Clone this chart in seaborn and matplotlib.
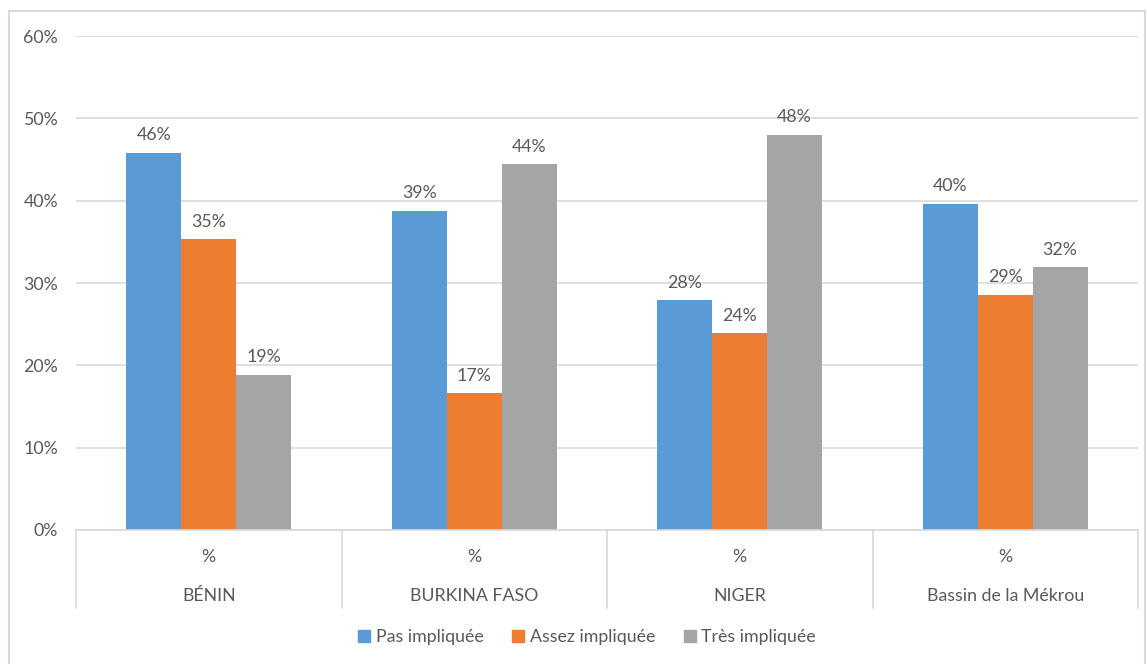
import matplotlib
matplotlib.use("Agg")
import matplotlib.pyplot as plt
import matplotlib.transforms as mtransforms
from matplotlib.patches import Rectangle
import seaborn as sns
import pandas as pd

# Data
countries = ["BÉNIN", "BURKINA FASO", "NIGER", "Bassin de la Mékrou"]
levels = ["Pas impliquée", "Assez impliquée", "Très impliquée"]
pas_impliquee = [45.8, 38.8, 27.9, 39.6]
assez_impliquee = [35.3, 16.6, 23.9, 28.6]
tres_impliquee = [18.8, 44.4, 48.0, 31.9]
sub_label = "%"
y_ticks = [0, 10, 20, 30, 40, 50, 60]

colors = ["#5B9BD5", "#ED7D31", "#A5A5A5"]
text_color = "#595959"
grid_color = "#D9D9D9"
fs = 12.8

rows = []
for lvl, vals in zip(levels, [pas_impliquee, assez_impliquee, tres_impliquee]):
    for c, v in zip(countries, vals):
        rows.append({"pays": c, "niveau": lvl, "valeur": v})
df = pd.DataFrame(rows)

sns.set_theme(style="white")
plt.rcParams["font.family"] = ["Lato", "DejaVu Sans"]

fig = plt.figure(figsize=(11.47, 6.64), dpi=100)
ax = fig.add_axes([76 / 1147, 1 - 530 / 664, (1138 - 76) / 1147, (530 - 36) / 664])

sns.barplot(data=df, x="pays", y="valeur", hue="niveau", order=countries,
            hue_order=levels, palette=colors, width=0.62, saturation=1,
            errorbar=None, ax=ax, linewidth=0, legend=True)

ax.set_xlim(-0.5, len(countries) - 0.5)
ax.set_ylim(0, 60)
ax.set_yticks(y_ticks)
ax.set_yticklabels([f"{t}%" for t in y_ticks], color=text_color, fontsize=fs)
ax.tick_params(axis="y", length=0, pad=13)
ax.tick_params(axis="x", length=0)
ax.set_xticks([])
ax.set_xlabel("")
ax.set_ylabel("")
ax.grid(axis="y", color=grid_color, linewidth=1.2)
ax.set_axisbelow(True)
for s in ["top", "right", "left"]:
    ax.spines[s].set_visible(False)
ax.spines["bottom"].set_color(grid_color)
ax.spines["bottom"].set_linewidth(1.2)

# Value labels
for cont in ax.containers:
    ax.bar_label(cont, labels=[f"{round(b.get_height()):.0f}%" for b in cont],
                 padding=7, color=text_color, fontsize=fs)

# Two-level category axis
trans = mtransforms.blended_transform_factory(ax.transData, ax.transAxes)
for i, c in enumerate(countries):
    ax.text(i, -27 / 494, sub_label, transform=trans, ha="center", va="center",
            color=text_color, fontsize=fs)
    ax.text(i, -66 / 494, c, transform=trans, ha="center", va="center",
            color=text_color, fontsize=fs)
for b in range(len(countries) + 1):
    ax.plot([b - 0.5, b - 0.5], [0, -78 / 494], transform=trans, color=grid_color,
            linewidth=1.2, clip_on=False)

# Legend
ax.get_legend().remove()
handles = [Rectangle((0, 0), 1, 1, color=col) for col in colors]
fig.legend(handles, levels, loc="center", bbox_to_anchor=(587 / 1147, 1 - 637 / 664),
           ncol=3, frameon=False, fontsize=fs, labelcolor=text_color,
           handlelength=0.7, handleheight=0.7, handletextpad=0.3, columnspacing=1.6)

# Chart frame
fig.patches.append(Rectangle((9 / 1147, -0.01), 1136 / 1147, 1 - 11 / 664 + 0.01,
                             transform=fig.transFigure, fill=False,
                             edgecolor="#D9D9D9", linewidth=1.5))

fig.savefig("out.png", dpi=100)
